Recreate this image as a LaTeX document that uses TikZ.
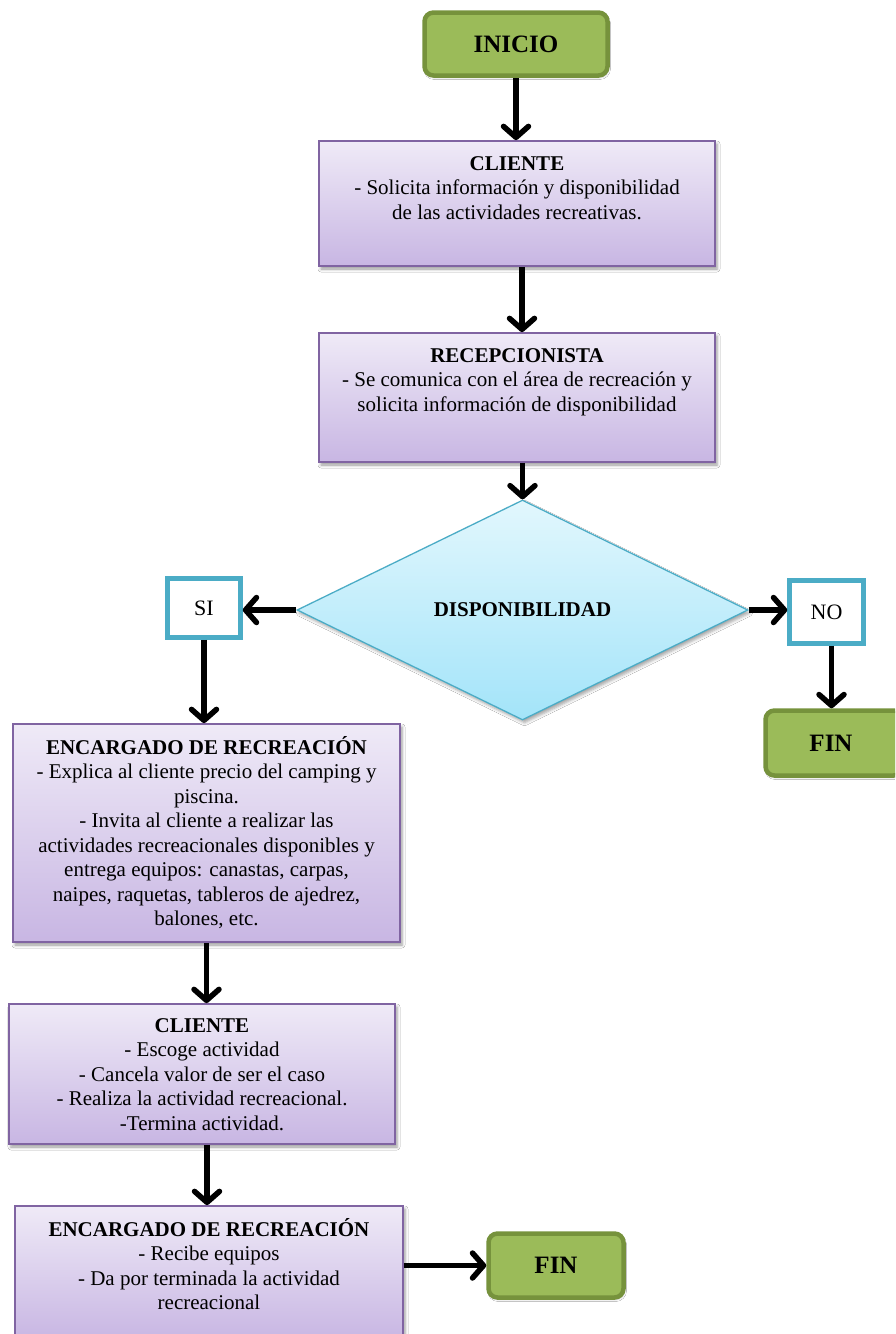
\documentclass[tikz,border=0pt]{standalone}
\usepackage{fontspec}
\setmainfont{Liberation Serif}
\usetikzlibrary{arrows.meta,shapes.geometric,shadows.blur}

\definecolor{greenfill}{HTML}{9BBB59}
\definecolor{greenline}{HTML}{76923C}
\definecolor{proctop}{HTML}{EFEAF7}
\definecolor{procbot}{HTML}{C8B6E3}
\definecolor{procline}{HTML}{8064A2}
\definecolor{cyanline}{HTML}{4BACC6}
\definecolor{diatop}{HTML}{E2F7FD}
\definecolor{diabot}{HTML}{A3E4F9}

\begin{document}
\begin{tikzpicture}[x=1pt,y=-1pt,
  terminal/.style={draw=greenline, fill=greenfill, line width=4.5pt, rounded corners=9pt,
    inner sep=0pt, font=\fontsize{25}{28}\selectfont\bfseries,
    blur shadow={shadow xshift=1pt, shadow yshift=-2pt, shadow blur radius=2pt, shadow opacity=25}},
  procbox/.style={draw=procline, line width=1.8pt, top color=proctop, bottom color=procbot,
    inner sep=0pt,
    blur shadow={shadow xshift=2pt, shadow yshift=-3pt, shadow blur radius=3pt, shadow opacity=40}},
  answer/.style={draw=cyanline, fill=white, line width=4.5pt, inner sep=0pt,
    font=\fontsize{22}{24}\selectfont},
  decision/.style={diamond, draw=cyanline, line width=1.3pt, top color=diatop, bottom color=diabot,
    inner sep=0pt, font=\fontsize{21}{24}\selectfont\bfseries,
    blur shadow={shadow xshift=2pt, shadow yshift=-3pt, shadow blur radius=3pt, shadow opacity=35}},
  boxtext/.style={anchor=north, align=center, inner sep=0pt, font=\fontsize{21}{24.5}\selectfont},
  flow/.style={line width=5.5pt, -{Straight Barb[length=11pt,width=25pt,round]}}
]
\useasboundingbox (0,0) rectangle (895,1334);
\clip (0,0) rectangle (895,1334);
\fill[white] (0,0) rectangle (895,1334);

% start
\node[terminal, minimum width=183pt, minimum height=63pt] (inicio) at (516,44) {INICIO};

% client request
\node[procbox, minimum width=396pt, minimum height=125pt] (cli1) at (517,203.5) {};
\node[boxtext] (cli1t) at ([yshift=-13pt]cli1.north)
  {\strut\textbf{CLIENTE}\\- Solicita información y disponibilidad\\de las actividades recreativas.};

% reception
\node[procbox, minimum width=396pt, minimum height=129pt] (rec) at (517,397.5) {};
\node[boxtext] (rect) at ([yshift=-13pt]rec.north)
  {\strut\textbf{RECEPCIONISTA}\\- Se comunica con el área de recreación y\\solicita información de disponibilidad};

% decision
\node[decision, minimum width=451pt, minimum height=220pt] (dia) at (522.5,610) {\raisebox{-3pt}{DISPONIBILIDAD}};

% answers
\node[answer, minimum width=73pt, minimum height=59pt] (si) at (204,608) {SI};
\node[answer, minimum width=74pt, minimum height=63pt] (no) at (826.5,612) {NO};

% end on the right
\node[terminal, minimum width=137pt, minimum height=65pt] (fin1) at (834,743) {\hspace*{-6pt}FIN};

% recreation staff
\node[procbox, minimum width=387pt, minimum height=218pt] (enc1) at (206.5,833) {};
\node[boxtext] (enc1t) at ([yshift=-13pt]enc1.north)
  {\strut\textbf{ENCARGADO DE RECREACIÓN}\\- Explica al cliente precio del camping y\\piscina.\\- Invita al cliente a realizar las\\actividades recreacionales disponibles y\\entrega equipos: canastas, carpas,\\naipes, raquetas, tableros de ajedrez,\\balones, etc.};

% client activity
\node[procbox, minimum width=386pt, minimum height=140pt] (cli2) at (202,1074) {};
\node[boxtext] (cli2t) at ([yshift=-12pt]cli2.north)
  {\strut\textbf{CLIENTE}\\- Escoge actividad\\- Cancela valor de ser el caso\\- Realiza la actividad recreacional.\\-Termina actividad.};

% closing
\node[procbox, minimum width=388pt, minimum height=134pt] (enc2) at (209,1273) {};
\node[boxtext] (enc2t) at ([yshift=-13pt]enc2.north)
  {\strut\textbf{ENCARGADO DE RECREACIÓN}\\- Recibe equipos\\- Da por terminada la actividad\\recreacional};

\node[terminal, minimum width=135pt, minimum height=64pt] (fin2) at (556,1265.5) {FIN};

% connectors
\draw[flow] (inicio.south) -- (inicio.south |- cli1.north);
\draw[flow] ([xshift=5pt]cli1.south) -- ([xshift=5pt]rec.north);
\draw[flow] (rec.south -| dia.north) -- (dia.north);
\draw[flow] (dia.west) -- (si.east |- dia.west);
\draw[flow] (dia.east) -- (no.west |- dia.east);
\draw[flow] ([xshift=5pt]no.south) -- ([xshift=5pt]no.south |- fin1.north);
\draw[flow] (si.south) -- (si.south |- enc1.north);
\draw[flow] (enc1.south) -- (enc1.south |- cli2.north);
\draw[flow] ([xshift=5pt]cli2.south) -- ([xshift=5pt]cli2.south |- enc2.north);
\draw[flow] (enc2.east |- fin2.west) -- (fin2.west);
\end{tikzpicture}
\end{document}
